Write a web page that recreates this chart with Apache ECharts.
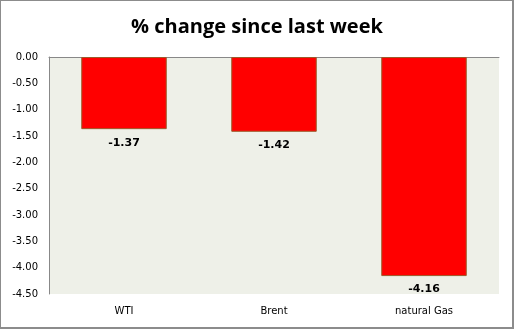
<!DOCTYPE html>
<html><head><meta charset="utf-8">
<script src="https://cdn.jsdelivr.net/npm/echarts@6/dist/echarts.min.js"></script>
<style>
html,body{margin:0;padding:0;background:#fff;}
#c{position:absolute;left:0;top:0;width:514px;height:329px;}
#frame{position:absolute;left:0;top:0;width:514px;height:329px;border:1px solid #8c8c8c;border-right:2px solid #8c8c8c;border-bottom:2px solid #8c8c8c;box-sizing:border-box;pointer-events:none;}
</style></head>
<body>
<div id="c"></div><div id="frame"></div>
<script>
const title = '% change since last week';
const categories = ['WTI', 'Brent', 'natural Gas'];
const values = [-1.37, -1.42, -4.16];
const yMin = -4.5, yMax = 0, yStep = 0.5;

const chart = echarts.init(document.getElementById('c'), null, {renderer: 'canvas'});
chart.setOption({
  animation: false,
  title: {text: title, left: 'center', top: 12,
    textStyle: {fontFamily: 'Open Sans', fontWeight: 'bold', fontSize: 20, color: '#000'}},
  grid: {left: 49, right: 15, top: 57, bottom: 35, show: true, backgroundColor: '#eef0e8', borderWidth: 0},
  xAxis: [
    {type: 'category', data: categories, position: 'top',
     axisLine: {show: true, lineStyle: {color: '#888', width: 1}},
     axisTick: {show: false}, axisLabel: {show: false}},
    {type: 'category', data: categories, position: 'bottom',
     axisLine: {show: false}, axisTick: {show: false},
     axisLabel: {color: '#000', fontFamily: 'DejaVu Sans', fontSize: 10, margin: 12}}
  ],
  yAxis: {type: 'value', min: yMin, max: yMax, interval: yStep,
    axisLine: {show: true, lineStyle: {color: '#888', width: 1}},
    axisTick: {show: false}, splitLine: {show: false},
    axisLabel: {color: '#000', fontFamily: 'DejaVu Sans', fontSize: 10, margin: 11,
      formatter: v => v.toFixed(2)}},
  series: [{type: 'bar', xAxisIndex: 0, data: values, barWidth: '57%',
    itemStyle: {color: '#ff0000', borderColor: '#9c5a2a', borderWidth: 1},
    label: {show: true, position: 'bottom', distance: 8, color: '#000',
      fontFamily: 'DejaVu Sans', fontWeight: 'bold', fontSize: 11,
      formatter: p => p.value.toFixed(2)}}]
});
</script>
</body></html>
